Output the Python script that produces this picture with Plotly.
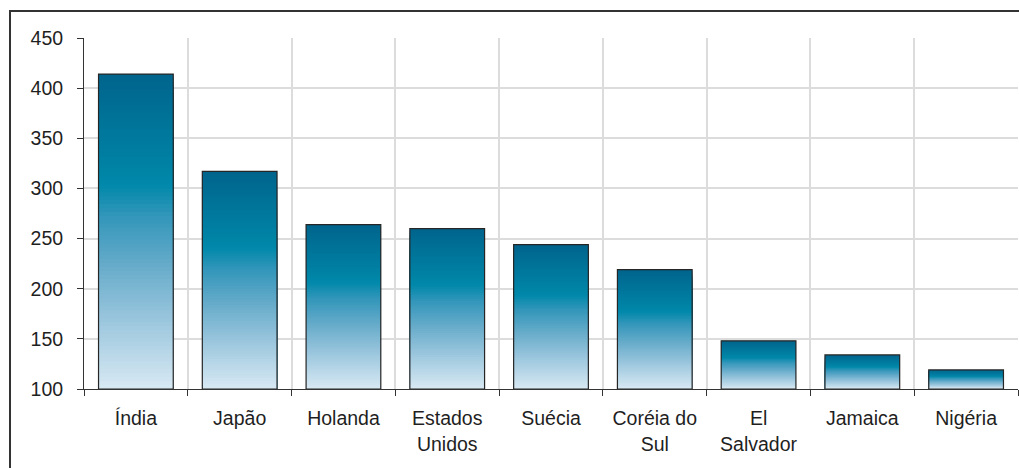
import plotly.graph_objects as go

categories = ["Índia", "Japão", "Holanda", "Estados<br>Unidos", "Suécia",
              "Coréia do<br>Sul", "El<br>Salvador", "Jamaica", "Nigéria"]
values = [414, 317, 264, 260, 244, 219, 148, 134, 119]
y_ticks = [100, 150, 200, 250, 300, 350, 400, 450]
base_value = 100

W, H = 1019, 468
ML, MR, MT, MB = 84, 1, 38, 79

# gradient stops: position from top (0) to bottom (1)
stops = [(0.0, (0, 100, 140)), (0.35, (0, 136, 170)), (0.45, (50, 150, 186)),
         (0.6, (100, 170, 201)), (0.8, (160, 201, 223)), (1.0, (216, 233, 243))]


def color_at(t):
    for (p0, c0), (p1, c1) in zip(stops[:-1], stops[1:]):
        if p0 <= t <= p1:
            f = (t - p0) / (p1 - p0) if p1 > p0 else 0
            c = [round(a + (b - a) * f) for a, b in zip(c0, c1)]
            return "rgb(%d,%d,%d)" % tuple(c)
    return "rgb(%d,%d,%d)" % stops[-1][1]


fig = go.Figure()
N = 80
heights = [v - base_value for v in values]
for k in range(N):
    frac = 1 - k / N
    fig.add_trace(go.Bar(
        x=categories, y=[h * frac for h in heights], base=base_value,
        marker=dict(color=color_at((k + 0.5) / N), line=dict(width=0)),
        hoverinfo="skip", showlegend=False))

fig.add_trace(go.Bar(
    x=categories, y=heights, base=base_value,
    marker=dict(color="rgba(0,0,0,0)", line=dict(color="#262626", width=1.2)),
    showlegend=False, customdata=values, hovertemplate="%{x}: %{customdata}<extra></extra>"))

pw = W - ML - MR
ph = H - MT - MB


def px_to_paper_x(px):
    return (px - ML) / pw


def px_to_paper_y(py):
    return 1 - (py - MT) / ph


fig.add_shape(type="rect", xref="paper", yref="paper",
              x0=px_to_paper_x(10), x1=px_to_paper_x(1040),
              y0=px_to_paper_y(490), y1=px_to_paper_y(11),
              line=dict(color="#333333", width=2), fillcolor="rgba(0,0,0,0)", layer="above")

font = dict(family="Liberation Sans, Arial, sans-serif", size=19.5, color="#1f1f1f")
fig.update_layout(
    width=W, height=H, margin=dict(l=ML, r=MR, t=MT, b=MB),
    paper_bgcolor="white", plot_bgcolor="white",
    barmode="overlay", bargap=0.28, font=font,
    xaxis=dict(showline=True, linecolor="#333333", linewidth=1,
               tickson="boundaries", ticks="outside", ticklen=6, tickcolor="#333333",
               showgrid=True, gridcolor="#dcdcdc", gridwidth=1.5, tickfont=font,
               ticklabelstandoff=12),
    yaxis=dict(range=[100, 450], tickvals=y_ticks, showline=True, linecolor="#333333",
               linewidth=1, ticks="outside", ticklen=6, tickcolor="#333333",
               showgrid=True, gridcolor="#dcdcdc", gridwidth=1.5,
               ticklabelstandoff=10, tickfont=font, zeroline=False),
)

fig.write_html("out.html", config={"displayModeBar": False},
               post_script="document.body.style.margin='0';document.body.style.padding='0';")
